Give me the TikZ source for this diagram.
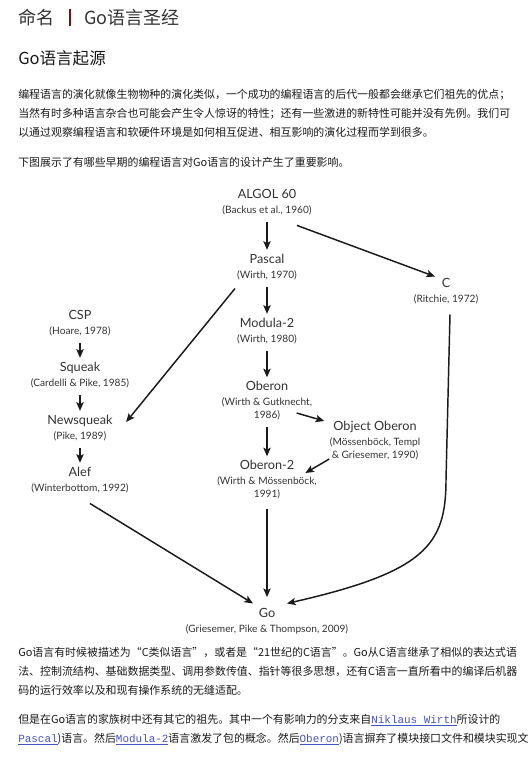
\documentclass[tikz,border=0pt]{standalone}
\usepackage{fontspec}
\setmainfont{Lato}
\newfontfamily\cjk{Noto Sans CJK SC}
\newfontfamily\mono{Liberation Mono}
\usetikzlibrary{arrows.meta}
\definecolor{txt}{HTML}{333333}
\definecolor{ink}{HTML}{1A1A1A}
\definecolor{bar}{HTML}{7A1010}
\definecolor{weblink}{HTML}{4652C8}
\newcommand{\lnk}[1]{\textcolor{weblink}{\underline{\mono #1}}}
\newcommand{\nm}[1]{{\fontsize{9.5}{11}\selectfont #1}\\[1.5pt]}
\tikzstyle{lang} = [align=center, inner sep=1pt, text=txt,
    font=\fontsize{7.6}{9.75}\selectfont]
\tikzstyle{body} = [anchor=base west, inner sep=0pt, text=ink,
    font=\cjk\fontsize{8.2}{10}\selectfont]
\tikzstyle{dep} = [->, >={Stealth[length=6.5pt,width=5.5pt,inset=1.5pt]},
    line width=1.1pt, color=ink, shorten <=4pt, shorten >=2pt]

\begin{document}
\begin{tikzpicture}[x=0.75pt,y=-0.75pt]
  \fill[white] (0,0) rectangle (530,757);
  \useasboundingbox (0,0) rectangle (530,757);

  % page head
  \node[body, font=\cjk\fontsize{13.5}{16}\selectfont, text=txt] (title) at (18,24) {命名};
  \node[body, font=\cjk\fontsize{13.5}{16}\selectfont, text=txt] (book) at (84,24) {Go语言圣经};
  \draw[bar, line width=0.8pt] (70,9) -- (70,26);
  \node[body, font=\cjk\fontsize{12.4}{15}\selectfont] (head) at (18,64) {Go语言起源};

  \node[body] (p1) at (18,98) {编程语言的演化就像生物物种的演化类似，一个成功的编程语言的后代一般都会继承它们祖先的优点；};
  \node[body] (p2) at (18,117) {当然有时多种语言杂合也可能会产生令人惊讶的特性；还有一些激进的新特性可能并没有先例。我们可};
  \node[body] (p3) at (18,136) {以通过观察编程语言和软硬件环境是如何相互促进、相互影响的演化过程而学到很多。};
  \node[body] (p4) at (18,166) {下图展示了有哪些早期的编程语言对Go语言的设计产生了重要影响。};

  % family tree
  \node[lang] (algol)     at (267,202) {\nm{ALGOL 60}(Backus et al., 1960)};
  \node[lang] (pascal)    at (267,267) {\nm{Pascal}(Wirth, 1970)};
  \node[lang] (clang)     at (446,291) {\nm{C}(Ritchie, 1972)};
  \node[lang] (modula)    at (267,331) {\nm{Modula-2}(Wirth, 1980)};
  \node[lang] (csp)       at (80,323)  {\nm{CSP}(Hoare, 1978)};
  \node[lang] (squeak)    at (80,375)  {\nm{Squeak}(Cardelli \& Pike, 1985)};
  \node[lang] (newsqueak) at (80,428)  {\nm{Newsqueak}(Pike, 1989)};
  \node[lang] (alef)      at (80,480)  {\nm{Alef}(Winterbottom, 1992)};
  \node[lang] (oberon)    at (267,401) {\nm{Oberon}(Wirth \& Gutknecht,\\1986)};
  \node[lang] (objoberon) at (375,441) {\nm{Object Oberon}(Mössenböck, Templ\\\& Griesemer, 1990)};
  \node[lang] (oberontwo) at (267,480) {\nm{Oberon-2}(Wirth \& Mössenböck,\\1991)};
  \node[lang] (golang)    at (267,621) {\nm{Go}(Griesemer, Pike \& Thompson, 2009)};

  \path[dep] (algol) edge (pascal)
  (pascal) edge (modula)
  (modula) edge (oberon)
  (oberon) edge (oberontwo)
  (oberontwo) edge[shorten <=6pt, shorten >=7pt] (golang)
  (csp) edge (squeak)
  (squeak) edge (newsqueak)
  (newsqueak) edge (alef)
  ([shift={(30,9)}]algol.south) edge[shorten <=0pt, shorten >=0pt] ([shift={(-11,0)}]clang.north)
  ([shift={(-32,7)}]pascal.south) edge[shorten <=0pt, shorten >=0pt] ([shift={(12,-6)}]newsqueak.east)
  ([shift={(10,9)}]alef.south) edge[shorten <=0pt, shorten >=0pt] ([shift={(-14,-3)}]golang.north)
  ([shift={(-17,-9)}]oberon.south east) edge[shorten <=0pt, shorten >=0pt] ([shift={(-4,1)}]objoberon.north west);
  \draw[dep, shorten <=0pt, shorten >=0pt] ([shift={(1,-3)}]objoberon.south west) -- ([shift={(-13,14)}]oberontwo.north east);
  \coordinate (cbend) at (446,480);
  \draw[dep, shorten <=0pt, shorten >=0pt] ([shift={(4,9)}]clang.south) -- (cbend)
    .. controls (446,545) and (425,572) .. ([shift={(20,-3)}]golang.north);

  % text after the picture
  \node[body] (q1) at (18,656) {Go语言有时候被描述为“C类似语言”，或者是“21世纪的C语言”。Go从C语言继承了相似的表达式语};
  \node[body] (q2) at (18,675) {法、控制流结构、基础数据类型、调用参数传值、指针等很多思想，还有C语言一直所看中的编译后机器};
  \node[body] (q3) at (18,694) {码的运行效率以及和现有操作系统的无缝适配。};
  \node[body] (r1) at (18,723) {但是在Go语言的家族树中还有其它的祖先。其中一个有影响力的分支来自\lnk{Niklaus Wirth}所设计的};
  \node[body] (r2) at (18,742) {\lnk{Pascal})语言。然后\lnk{Modula-2}语言激发了包的概念。然后\lnk{Oberon})语言摒弃了模块接口文件和模块实现文};
\end{tikzpicture}
\end{document}
